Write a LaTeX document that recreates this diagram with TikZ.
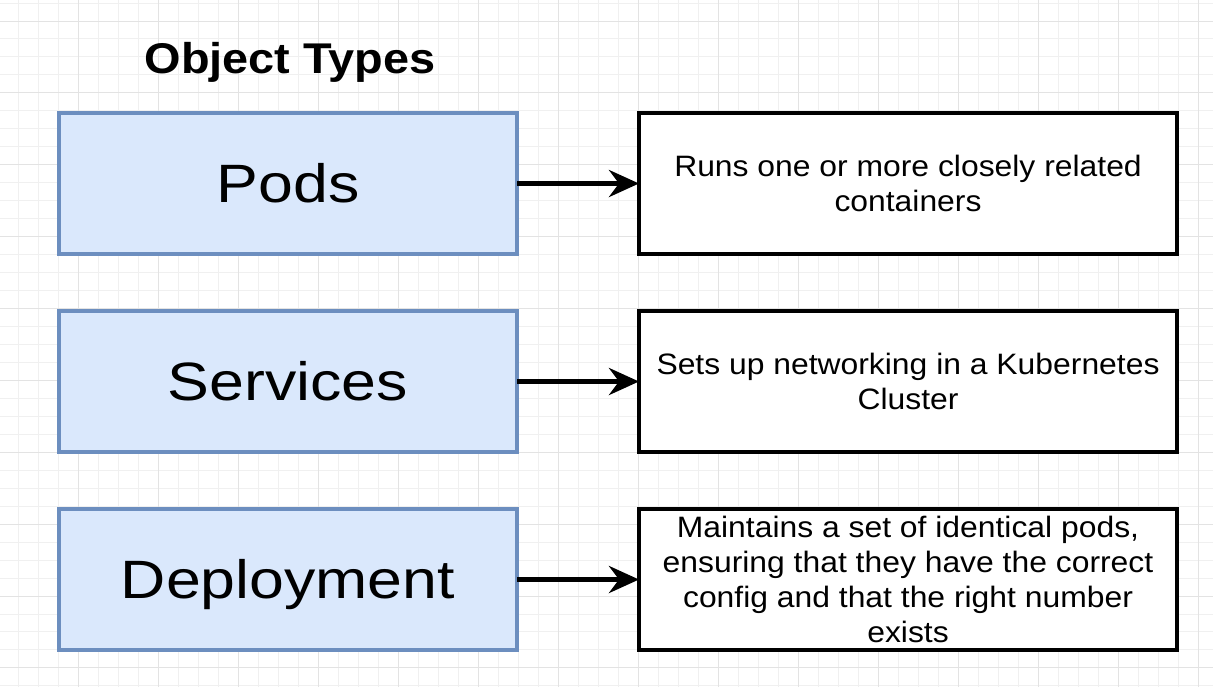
\documentclass[tikz,border=0pt]{standalone}
\usepackage{fontspec}
\setmainfont{Liberation Sans}
\newfontfamily\typefont[FakeStretch=1.16]{Liberation Sans}
\newfontfamily\descfont[FakeStretch=1.08]{Liberation Sans}
\newfontfamily\headfont[FakeStretch=1.09]{Liberation Sans}
\usetikzlibrary{positioning,arrows.meta}
\definecolor{typefill}{HTML}{DAE8FC}
\definecolor{typeline}{HTML}{6C8EBF}

\begin{document}
\begin{tikzpicture}[
  x=0.5pt, y=-0.5pt,
  node distance=28.5pt and 61pt,
  objtype/.style={rectangle, draw=typeline, fill=typefill, line width=2pt, minimum width=229pt, minimum height=70.5pt, outer sep=0pt, inner sep=0pt, font=\typefont\fontsize{27}{32}\selectfont, text height=19.3pt, text depth=0pt},
  purpose/.style={rectangle, draw=black, fill=white, line width=2pt, minimum width=269pt, minimum height=70.5pt, outer sep=0pt, inner sep=0pt, align=center, font=\descfont\fontsize{14.75}{17.5}\selectfont, text height=28.1pt, text depth=0pt},
  link/.style={-{Stealth[length=15pt, width=13.5pt, inset=5pt]}, line width=2.5pt}
]
  \useasboundingbox (0,0) rectangle (1213,687);
  \fill[white] (0,0) rectangle (1213,687);
  \foreach \gx in {18,38,...,1213} \draw[black!6, line width=0.5pt] (\gx,0) -- (\gx,687);
  \foreach \gy in {3.03,21,...,687} \draw[black!6, line width=0.5pt] (0,\gy) -- (1213,\gy);
  \foreach \gx in {78,158,...,1213} \draw[black!11, line width=0.5pt] (\gx,0) -- (\gx,687);
  \foreach \gy in {21,92.88,...,687} \draw[black!11, line width=0.5pt] (0,\gy) -- (1213,\gy);

  \node[font=\headfont\bfseries\fontsize{21.5}{26}\selectfont, anchor=base] (title) at (290,73) {Object Types};

  \node[objtype] (pods) at (288,183.5) {Pods};
  \node[objtype, below=of pods] (services) {Services};
  \node[objtype, below=of services] (deployment) {Deployment};

  \node[purpose, right=of pods] (podsinfo) {Runs one or more closely related\\containers};
  \node[purpose, right=of services] (servicesinfo) {Sets up networking in a Kubernetes\\Cluster};
  \node[purpose, right=of deployment, text height=63.1pt] (deploymentinfo) {Maintains a set of identical pods,\\ensuring that they have the correct\\config and that the right number\\exists};

  \draw[link] (pods) -- (podsinfo);
  \draw[link] (services) -- (servicesinfo);
  \draw[link] (deployment) -- (deploymentinfo);
\end{tikzpicture}
\end{document}
